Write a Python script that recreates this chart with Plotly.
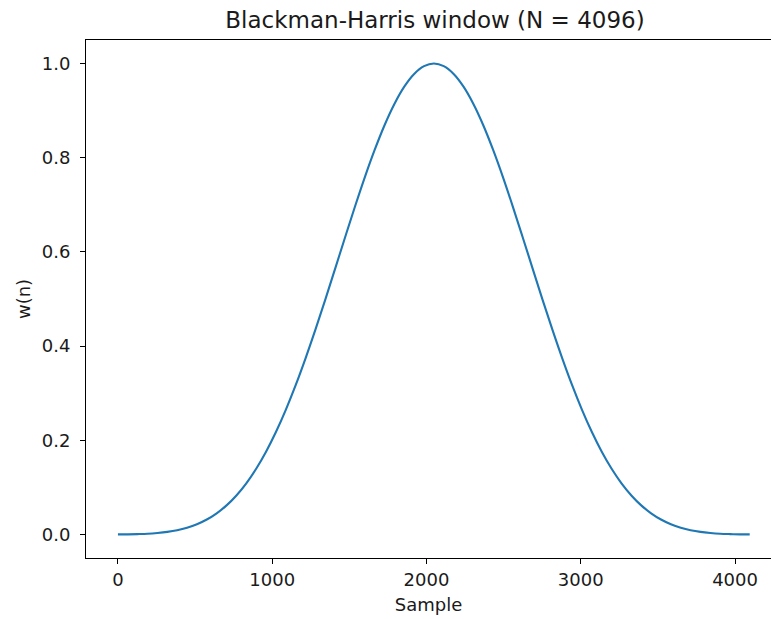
import plotly.graph_objects as go

sample = [0, 64, 128, 192, 256, 320, 384, 448, 512, 576, 640, 704, 768, 832,
          896, 960, 1024, 1088, 1152, 1216, 1280, 1344, 1408, 1472, 1536,
          1600, 1664, 1728, 1792, 1856, 1920, 1984, 2048, 2112, 2176, 2240,
          2304, 2368, 2432, 2496, 2560, 2624, 2688, 2752, 2816, 2880, 2944,
          3008, 3072, 3136, 3200, 3264, 3328, 3392, 3456, 3520, 3584, 3648,
          3712, 3776, 3840, 3904, 3968, 4032, 4095]
w = [0.0001, 0.0002, 0.0007, 0.0015, 0.0031, 0.0055, 0.0091, 0.0144, 0.0217,
     0.0317, 0.0449, 0.0617, 0.0828, 0.1086, 0.1395, 0.1757, 0.2175, 0.2647,
     0.3170, 0.3740, 0.4349, 0.4988, 0.5645, 0.6307, 0.6958, 0.7583, 0.8165,
     0.8690, 0.9142, 0.9509, 0.9779, 0.9944, 1.0000, 0.9944, 0.9779, 0.9509,
     0.9142, 0.8690, 0.8165, 0.7583, 0.6958, 0.6307, 0.5645, 0.4988, 0.4349,
     0.3740, 0.3170, 0.2647, 0.2175, 0.1757, 0.1395, 0.1086, 0.0828, 0.0617,
     0.0449, 0.0317, 0.0217, 0.0144, 0.0091, 0.0055, 0.0031, 0.0015, 0.0007,
     0.0002, 0.0001]

x_ticks = [0, 1000, 2000, 3000, 4000]
y_ticks = [0.0, 0.2, 0.4, 0.6, 0.8, 1.0]
y_tick_text = ["0.0", "0.2", "0.4", "0.6", "0.8", "1.0"]

FONT = "DejaVu Sans"
TXT = "#1a1a1a"

fig = go.Figure()
fig.add_trace(go.Scatter(
    x=sample, y=w, mode="lines",
    line=dict(color="#1f77b4", width=2.1, shape="spline", smoothing=1.0),
    showlegend=False, hoverinfo="skip",
))

fig.update_layout(
    width=771, height=619,
    margin=dict(l=86, r=0, t=40, b=61, pad=0),
    paper_bgcolor="white", plot_bgcolor="white",
    font=dict(family=FONT, size=18, color=TXT),
    title=dict(
        text="Blackman-Harris window (N = 4096)",
        font=dict(family=FONT, size=23, color=TXT),
        xref="container", x=435 / 771, xanchor="center",
        yref="container", y=1 - 20 / 619, yanchor="middle",
    ),
    xaxis=dict(
        range=[-207, 4233],
        tickmode="array", tickvals=x_ticks,
        ticks="outside", ticklen=5, tickwidth=1, tickcolor="black",
        showline=True, linecolor="black", linewidth=1.1, mirror=True,
        showgrid=False, zeroline=False,
        tickfont=dict(family=FONT, size=18, color=TXT),
        title=dict(text="Sample", font=dict(family=FONT, size=18, color=TXT),
                   standoff=9),
    ),
    yaxis=dict(
        range=[-0.05, 1.05],
        tickmode="array", tickvals=y_ticks, ticktext=y_tick_text,
        ticks="outside", ticklen=5, tickwidth=1, tickcolor="black",
        showline=True, linecolor="black", linewidth=1.1, mirror=False,
        showgrid=False, zeroline=False,
        tickfont=dict(family=FONT, size=18, color=TXT),
        ticklabelstandoff=6,
        title=dict(text="w(n)", font=dict(family=FONT, size=18, color=TXT),
                   standoff=6),
    ),
)

fig.write_html(
    "out.html",
    config={"displayModeBar": False},
    post_script="document.body.style.margin='0';document.body.style.overflow='hidden';",
)
